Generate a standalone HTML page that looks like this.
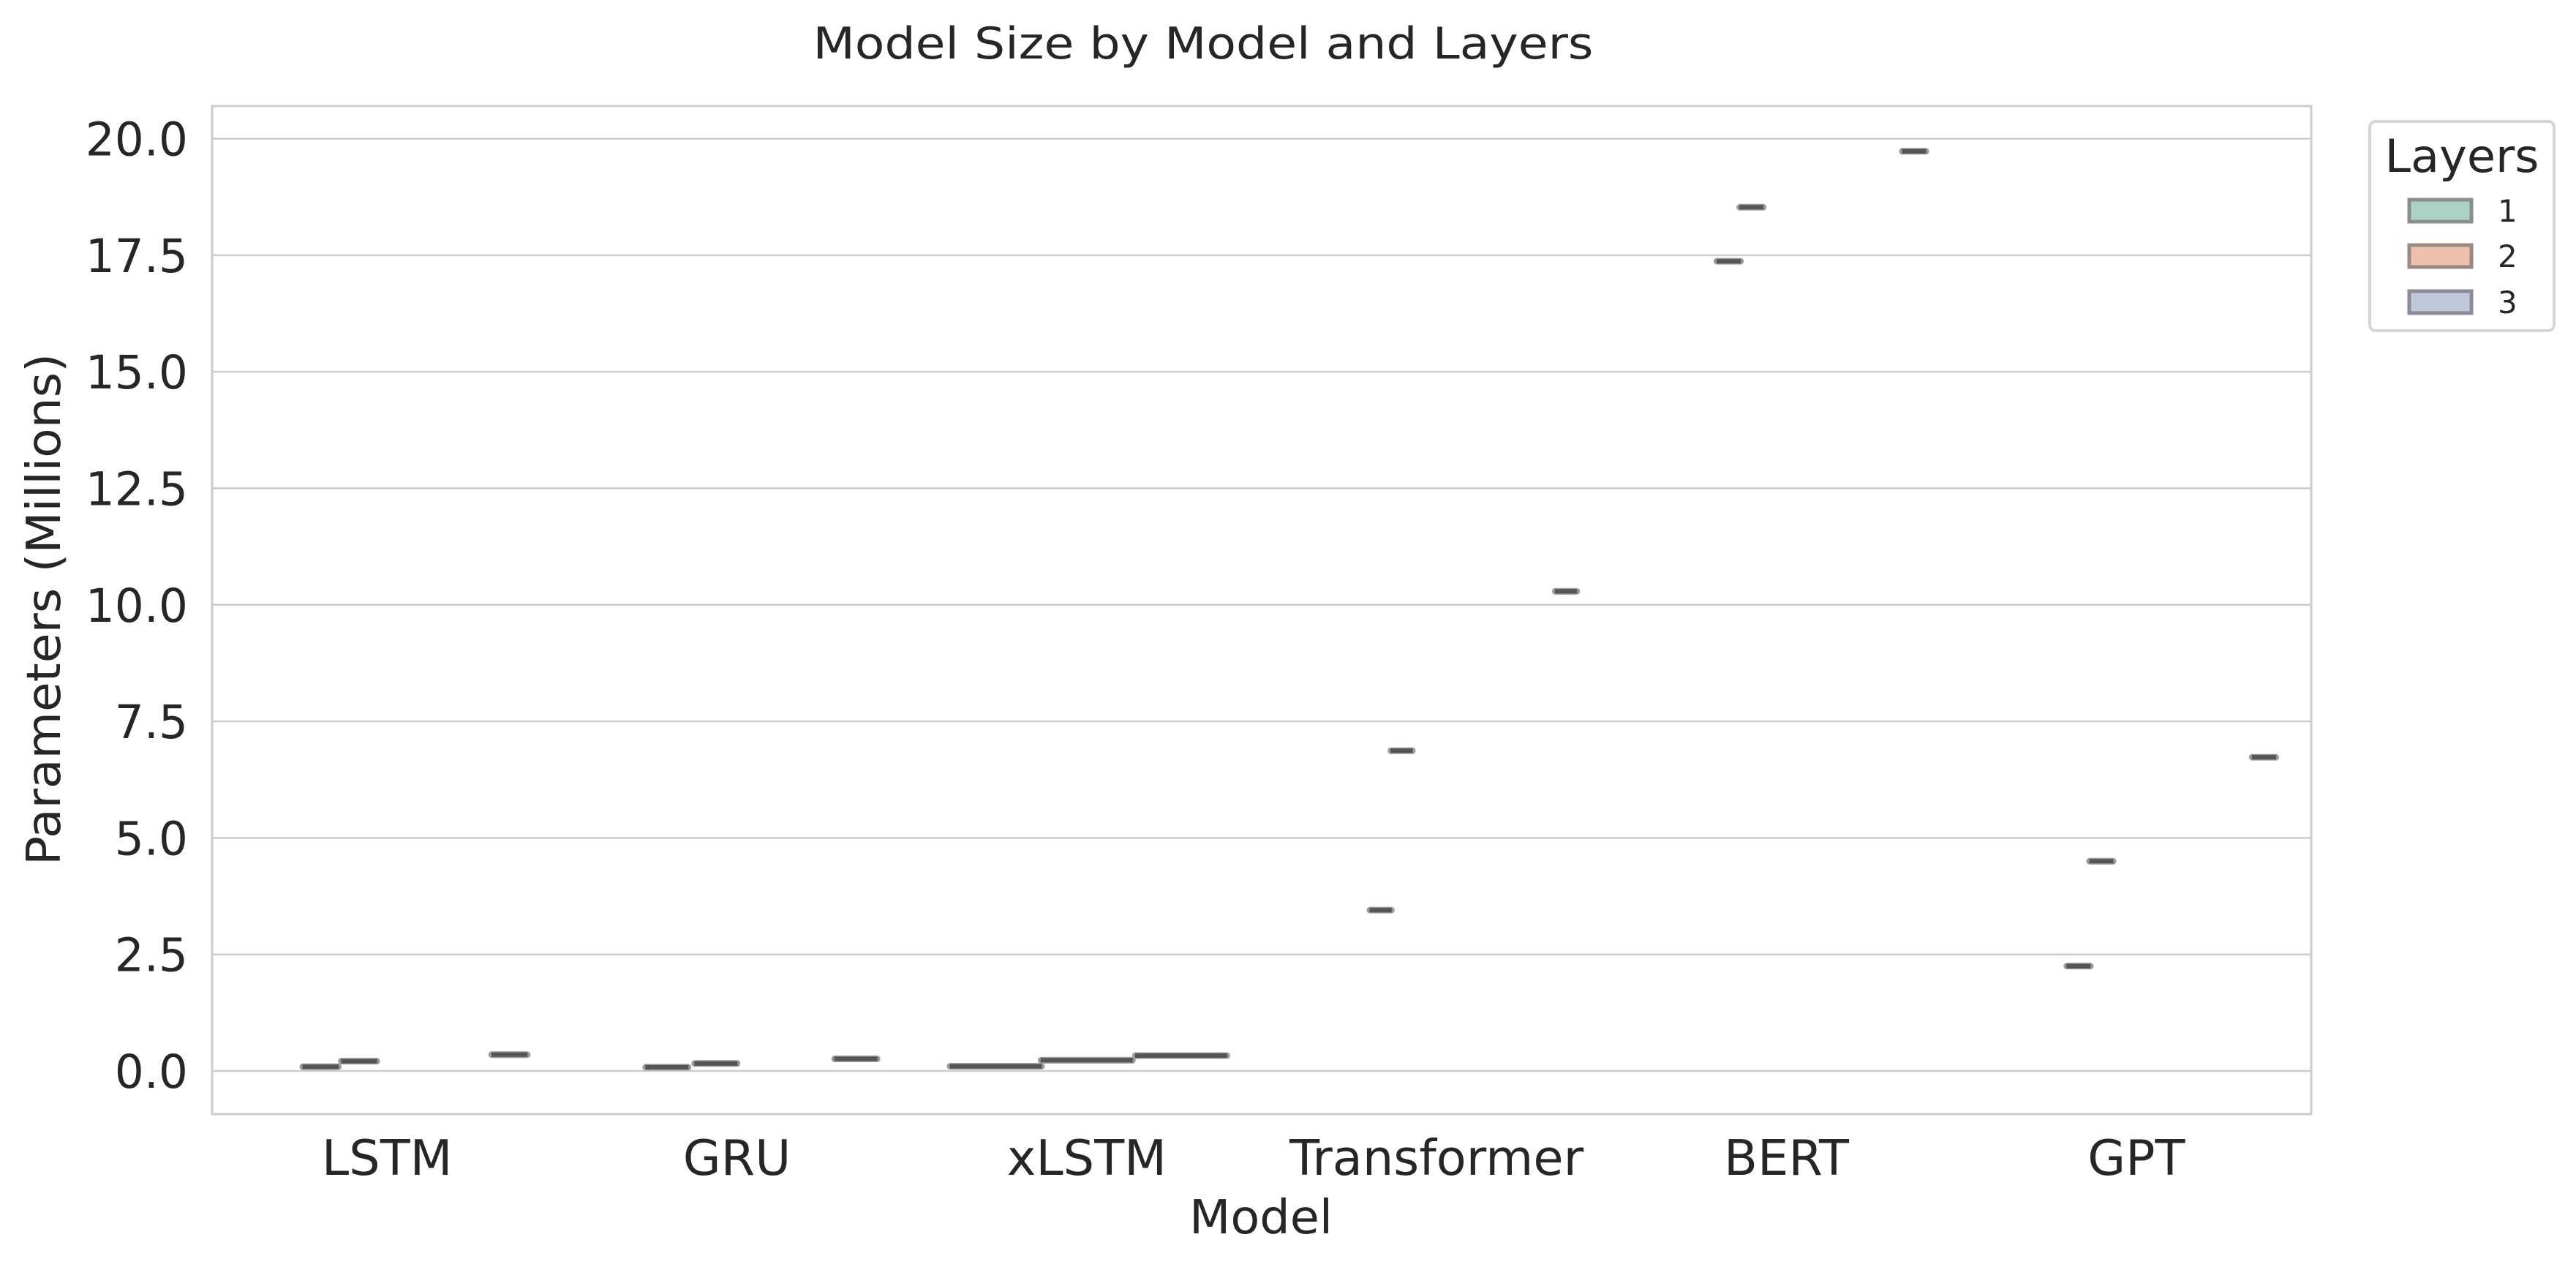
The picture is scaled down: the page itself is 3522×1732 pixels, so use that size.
<!DOCTYPE html>
<html><head><meta charset="utf-8"><style>
html,body{margin:0;padding:0;background:#fff;}
svg{display:block;font-family:"DejaVu Sans","Liberation Sans",sans-serif;}
</style></head><body>
<svg id="chart" width="3522" height="1732" viewBox="0 0 3522 1732">
<text x="1645" y="80" font-size="60" fill="#262626" text-anchor="middle" textLength="1067" lengthAdjust="spacingAndGlyphs">Model Size by Model and Layers</text>
<g id="grid"></g>
<g id="marks"></g>
<rect x="290" y="145" width="2870" height="1378" fill="none" stroke="#cccccc" stroke-width="3"/>
<g id="yticks"></g>
<g id="xticks"></g>
<text x="0" y="0" transform="translate(82,833) rotate(-90)" font-size="64" fill="#262626" text-anchor="middle" textLength="700" lengthAdjust="spacingAndGlyphs">Parameters (Millions)</text>
<text x="1724" y="1686" font-size="64" fill="#262626" text-anchor="middle" textLength="196" lengthAdjust="spacingAndGlyphs">Model</text>
<g>
<rect x="3240" y="166" width="252" height="286" rx="8" fill="#fff" stroke="#d6d6d6" stroke-width="4"/>
<text x="3366" y="235" font-size="62" fill="#262626" text-anchor="middle" textLength="211" lengthAdjust="spacingAndGlyphs">Layers</text>
<g><rect x="3294" y="273" width="85" height="30" fill="#aad3c4" stroke="#8a8e8c" stroke-width="5"/><text x="3415" y="303" font-size="42" fill="#262626">1</text></g>
<g><rect x="3294" y="335" width="85" height="30" fill="#eec0ab" stroke="#9a8a84" stroke-width="5"/><text x="3415" y="365" font-size="42" fill="#262626">2</text></g>
<g><rect x="3294" y="398" width="85" height="30" fill="#bfc7da" stroke="#8a8d96" stroke-width="5"/><text x="3415" y="428" font-size="42" fill="#262626">3</text></g>
</g>
</svg>
<script>
const categories = ["LSTM","GRU","xLSTM","Transformer","BERT","GPT"];
const layer1 = [0.09,0.08,0.10,3.45,17.37,2.25];
const layer2 = [0.21,0.16,0.23,6.87,18.53,4.50];
const layer3 = [0.35,0.26,0.33,10.29,19.73,6.73];
const yTicks = [0,2.5,5,7.5,10,12.5,15,17.5,20];
const yTickLabels = ["0.0","2.5","5.0","7.5","10.0","12.5","15.0","17.5","20.0"];
// cluster horizontal offset (category units) and half-spread, per layer per category
const off1 = [-0.19,-0.20,-0.26,-0.16,-0.165,-0.165];
const off2 = [-0.08,-0.06,0.00,-0.10,-0.10,-0.10];
const off3 = [0.35,0.34,0.27,0.37,0.365,0.365];
const spread = [0.06,0.07,0.14,0.04,0.043,0.043];

const NS="http://www.w3.org/2000/svg";
const X0=290,X1=3160,band=(X1-X0)/categories.length;
const y=v=>1464-(v/2.5)*159.3;
const xc=i=>X0+band*(i+0.5);
function mk(tag,attrs,parent){const e=document.createElementNS(NS,tag);for(const k in attrs)e.setAttribute(k,attrs[k]);parent.appendChild(e);return e;}
const grid=document.getElementById('grid'),marks=document.getElementById('marks');
const yt=document.getElementById('yticks'),xt=document.getElementById('xticks');
yTicks.forEach((t,i)=>{
  const l=mk('line',{x1:X0,x2:X1,y1:y(t),y2:y(t),stroke:'#cccccc','stroke-width':2.5},grid);
  
  
  const tx=mk('text',{x:257,y:y(t)+23,'font-size':63,fill:'#262626','text-anchor':'end'},yt);
  tx.textContent=yTickLabels[i];
  
  
});
categories.forEach((c,i)=>{
  const tx=mk('text',{x:xc(i),y:1606,'font-size':67,fill:'#262626','text-anchor':'middle'},xt);
  tx.textContent=c;
  
  
  [[layer1,off1],[layer2,off2],[layer3,off3]].forEach(([vals,off],k)=>{
    const cx=xc(i)+off[i]*band, hw=spread[i]*band, yy=y(vals[i]);
    const g=mk('g',{},marks);
    
    
    mk('rect',{x:cx-hw,y:yy-4.5,width:2*hw,height:9,rx:4.5,fill:'#9a9a9a'},g);
    mk('rect',{x:cx-hw+4,y:yy-3,width:2*hw-8,height:6,fill:'#555555'},g);
  });
});
</script>
</body></html>
